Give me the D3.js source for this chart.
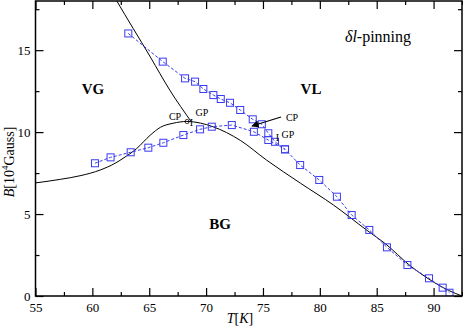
<!DOCTYPE html>
<html>
<head>
<meta charset="utf-8">
<script src="https://cdn.jsdelivr.net/npm/d3@7"></script>
<style>
  body { margin: 0; background: #fff; }
  svg text, svg tspan { font-family: "Liberation Serif", "DejaVu Serif", serif; }
</style>
</head>
<body>
<svg id="chart" width="463" height="327"></svg>
<script>
// black boundary curves (T [K], B [10^4 Gauss])
var boundaryT = [55, 57.2, 59, 60.7, 62, 62.7, 63.9, 65.1, 66, 67.1, 68.3, 69.5, 70.6, 73, 75.3, 78.3, 81.2, 84.1, 85.9, 87.8, 89.7, 91.3, 92.5];
var boundaryB = [6.9, 7.12, 7.35, 7.69, 8.1, 8.4, 9.0, 9.82, 10.3, 10.54, 10.65, 10.55, 10.33, 9.5, 8.3, 6.88, 5.55, 4.03, 3.11, 1.93, 0.98, 0.35, 0];
var meltT = [61.9, 62.1, 65.1, 66.8, 68.7];
var meltB = [18.3, 18.06, 14.58, 12.57, 10.63];

// blue simulation points
var upperT = [63.16, 66.19, 68.15, 69.03, 69.76, 70.64, 71.29, 72.1, 73.0, 74.1, 74.9, 75.47, 76.06, 76.94, 78.27, 79.95, 81.5, 82.8, 84.35, 85.9, 87.7, 89.6, 90.8, 91.4];
var upperB = [16.02, 14.3, 13.28, 13.08, 12.63, 12.26, 12.02, 11.79, 11.35, 10.78, 10.48, 9.93, 9.41, 8.95, 7.99, 7.08, 6.06, 4.94, 4.03, 2.97, 1.89, 1.08, 0.51, 0.2];
var lowerT = [60.23, 61.6, 63.37, 64.92, 66.24, 68.0, 69.47, 70.5, 72.26, 74.2, 75.47, 76.94];
var lowerB = [8.1, 8.46, 8.77, 9.05, 9.35, 9.82, 10.17, 10.33, 10.43, 10.02, 9.52, 8.95];

var xMajor = [55, 60, 65, 70, 75, 80, 85, 90];
var xMinor = [57.5, 62.5, 67.5, 72.5, 77.5, 82.5, 87.5, 92.5];
var yMajor = [0, 5, 10, 15];
var yMinor = [2.5, 7.5, 12.5, 17.5];

var blue = "#3a3af0";
var serif = "'Liberation Serif', 'DejaVu Serif', serif";

var chart = d3.select("#chart");
var pLeft = 35.5, pRight = 462, pTop = 1, pBottom = 296;

var xScale = d3.scaleLinear().domain([55, 92.5]).range([pLeft, pRight]);
var yScale = d3.scaleLinear().domain([0, 18]).range([pBottom, pTop]);

function pts(xs, ys) { return xs.map(function(v, i){ return [v, ys[i]]; }); }

chart.append("clipPath").attr("id", "clip")
    .append("rect").attr("x", pLeft).attr("y", pTop)
    .attr("width", pRight - pLeft).attr("height", pBottom - pTop);

var plot = chart.append("g").attr("clip-path", "url(#clip)");

var line = d3.line()
    .x(function(d){ return xScale(d[0]); })
    .y(function(d){ return yScale(d[1]); })
    .curve(d3.curveMonotoneX);

var straight = d3.line()
    .x(function(d){ return xScale(d[0]); })
    .y(function(d){ return yScale(d[1]); });

plot.append("path").attr("d", line(pts(boundaryT, boundaryB)))
    .attr("fill", "none").attr("stroke", "#000").attr("stroke-width", 1);
plot.append("path").attr("d", line(pts(meltT, meltB)))
    .attr("fill", "none").attr("stroke", "#000").attr("stroke-width", 1);

[pts(upperT, upperB), pts(lowerT, lowerB)].forEach(function(data){
    plot.append("path").attr("d", straight(data))
        .attr("fill", "none").attr("stroke", blue)
        .attr("stroke-width", 1).attr("stroke-dasharray", "3,2");
    plot.selectAll(null).data(data).enter()
        .append("rect")
            .attr("x", function(d){ return xScale(d[0]) - 3.5; })
            .attr("y", function(d){ return yScale(d[1]) - 3.5; })
            .attr("width", 7).attr("height", 7)
            .attr("fill", "none").attr("stroke", blue).attr("stroke-width", 1);
});

// axes, ticks pointing inward on all four sides
function ticks(axis, pos, values, size, labels) {
    var g = chart.append("g").attr("transform", pos)
        .call(axis.tickValues(values).tickSize(size).tickFormat(labels ? d3.format("d") : ""));
    g.attr("font-family", serif);
    g.select(".domain").remove();
    g.selectAll("line").attr("stroke", "#000").attr("stroke-width", 1.2);
    g.selectAll("text").attr("font-size", 13).attr("fill", "#000");
    return g;
}
var xb = ticks(d3.axisBottom(xScale), "translate(0," + pBottom + ")", xMajor, -8, true);
xb.selectAll("text").attr("y", 7);
ticks(d3.axisBottom(xScale), "translate(0," + pBottom + ")", xMinor, -4, false);
ticks(d3.axisTop(xScale), "translate(0," + pTop + ")", xMajor, -8, false);
ticks(d3.axisTop(xScale), "translate(0," + pTop + ")", xMinor, -4, false);
var yl = ticks(d3.axisLeft(yScale), "translate(" + pLeft + ",0)", yMajor, -8, true);
yl.selectAll("text").attr("x", -5);
ticks(d3.axisLeft(yScale), "translate(" + pLeft + ",0)", yMinor, -4, false);
ticks(d3.axisRight(yScale), "translate(" + pRight + ",0)", yMajor, -8, false);
ticks(d3.axisRight(yScale), "translate(" + pRight + ",0)", yMinor, -4, false);

chart.append("rect").attr("x", pLeft).attr("y", pTop)
    .attr("width", pRight - pLeft).attr("height", pBottom - pTop)
    .attr("fill", "none").attr("stroke", "#000").attr("stroke-width", 1.5);

// axis titles
var xt = chart.append("text").attr("x", 240).attr("y", 323)
    .attr("text-anchor", "middle").attr("font-size", 14);
xt.append("tspan").attr("font-style", "italic").text("T");
xt.append("tspan").text("[");
xt.append("tspan").attr("font-style", "italic").text("K");
xt.append("tspan").text("]");

var yt = chart.append("text").attr("transform", "translate(14,162) rotate(-90)")
    .attr("text-anchor", "middle").attr("font-size", 14);
yt.append("tspan").attr("font-style", "italic").text("B");
yt.append("tspan").text("[10");
yt.append("tspan").attr("font-size", 9).attr("dy", -6).text("4");
yt.append("tspan").attr("dy", 6).text("Gauss]");

// phase labels
function label(txt, x, y, size, bold) {
    return chart.append("text").attr("x", x).attr("y", y)
        .attr("text-anchor", "middle").attr("font-size", size)
        .attr("font-weight", bold ? "bold" : "normal").text(txt);
}
label("VG", 93, 94, 15, true);
label("VL", 311, 94, 15, true);
label("BG", 220, 229, 15, true);

var pin = chart.append("text").attr("x", 378).attr("y", 42)
    .attr("text-anchor", "middle").attr("font-size", 16);
pin.append("tspan").attr("font-style", "italic").text("δl");
pin.append("tspan").text("-pinning");

label("CP", 175, 120, 10, false);
label("GP", 202, 116, 10, false);
label("CP", 292, 121, 10, false);
label("GP", 288, 138, 10, false);
label("o", 187, 124, 10, false);
label("I", 191.5, 125.5, 10, false);
label("I", 277.5, 140.5, 10, false);

// arrow to the critical point
chart.append("defs").append("marker").attr("id", "head")
    .attr("viewBox", "0 0 10 10").attr("refX", 9).attr("refY", 5)
    .attr("markerWidth", 8).attr("markerHeight", 6).attr("orient", "auto")
    .append("path").attr("d", "M0,0 L10,5 L0,10 Z").attr("fill", "#000");
chart.append("line").attr("x1", 281).attr("y1", 117).attr("x2", 252).attr("y2", 126)
    .attr("stroke", "#000").attr("stroke-width", 1.2).attr("marker-end", "url(#head)");
</script>
</body>
</html>
